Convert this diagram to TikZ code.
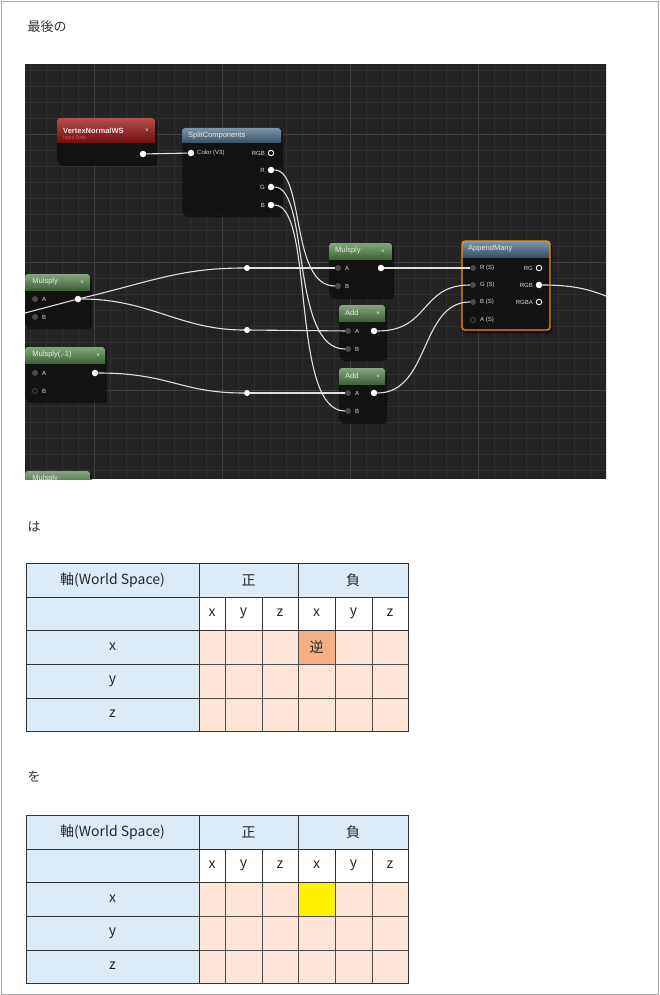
\documentclass[tikz,border=0pt]{standalone}
\usepackage{fontspec}
\setmainfont{Noto Sans CJK JP}
\newfontfamily\uefont{Liberation Sans}
\definecolor{tblue}{HTML}{DDEBF7}
\definecolor{tpeach}{HTML}{FCE4D6}
\definecolor{torange}{HTML}{F4B084}
\definecolor{bg}{HTML}{232323}
\definecolor{gridc}{HTML}{303030}
\definecolor{nodebody}{HTML}{121212}
\definecolor{hred}{HTML}{9E1212}
\definecolor{hblue}{HTML}{4F7390}
\definecolor{hgreen}{HTML}{5C8A52}
\definecolor{pingray}{HTML}{4A4A4A}
\tikzset{
  wire/.style={draw=white!88!black, line width=1.1pt},
  pin/.style={circle, fill=white, inner sep=0pt, minimum size=6.5pt},
  gpin/.style={circle, fill=pingray, inner sep=0pt, minimum size=6pt},
  hpin/.style={circle, draw=white, line width=0.9pt, inner sep=0pt, minimum size=5.5pt},
  ohpin/.style={circle, draw=pingray, line width=0.8pt, inner sep=0pt, minimum size=5pt},
  reroute/.style={circle, fill=white, inner sep=0pt, minimum size=6pt},
  ptxt/.style={text=white!85!black, font=\uefont\fontsize{6}{6}\selectfont, inner sep=0pt},
  htxt/.style={text=white!92!black, font=\uefont\fontsize{7.5}{8}\selectfont, inner sep=0pt, anchor=west},
  tcell/.style={font=\fontsize{14}{16}\selectfont, text=black!85},
}
\newcommand{\uebox}[7]{% x1 y1 x2 y2 headerbottom color title
  \fill[black, opacity=0.5, rounded corners=3pt] (#1+2,#2+3) rectangle (#3+2,#4+3);
  \fill[nodebody, rounded corners=3pt] (#1,#2) rectangle (#3,#4);
  \begin{scope}
    \clip[rounded corners=3pt] (#1,#2) rectangle (#3,#4);
    \shade[top color=#6!75!white, bottom color=#6!70!black] (#1,#2) rectangle (#3,#5);
  \end{scope}
  \node[htxt] at (#1+6,{(#2+#5)/2}) {#7};
}
\begin{document}
\begin{tikzpicture}[x=1pt,y=-1pt]
\useasboundingbox (0,0) rectangle (659,995);
\fill[white] (0,0) rectangle (659,995);
\draw[black!35, line width=0.8pt] (1,1) rectangle (658,994);
\node[anchor=west, font=\fontsize{13}{15}\selectfont, text=black!80] (t1) at (24,27) {最後の};
\node[anchor=west, font=\fontsize{13}{15}\selectfont, text=black!80] (t2) at (24,527) {は};
\node[anchor=west, font=\fontsize{13}{15}\selectfont, text=black!80] (t3) at (24,777) {を};

% ---------- graph ----------
\begin{scope}
\clip (25,64) rectangle (606,479);
\fill[bg] (25,64) rectangle (606,479);
\foreach \x in {30,46,...,606} \draw[gridc, line width=0.6pt] (\x,64) -- (\x,479);
\foreach \y in {70,86,...,479} \draw[gridc, line width=0.6pt] (25,\y) -- (606,\y);
\foreach \x in {94,222,350,478} \draw[black!75, line width=0.7pt] (\x,64) -- (\x,479);
\foreach \y in {134,262,390} \draw[black!75, line width=0.7pt] (25,\y) -- (606,\y);

% nodes
\uebox{57}{118}{155}{163}{143}{hred}{\textbf{VertexNormalWS}}
\node[anchor=west, text=red!70!white, font=\uefont\fontsize{5}{6}\selectfont, inner sep=0pt] at (63,138) {Input Data};
\node[text=white, font=\fontsize{6}{6}\selectfont] at (147,130) {\textsf{v}};
\uebox{182}{128}{281}{214}{143}{hblue}{SplitComponents}
\uebox{329}{243}{392}{296}{259}{hgreen}{Mulsply}
\uebox{339}{305}{385}{358}{321}{hgreen}{Add}
\uebox{339}{368}{385}{421}{384}{hgreen}{Add}
\uebox{25}{274}{90}{326}{290}{hgreen}{\,Mulsply}
\uebox{25}{347}{105}{400}{363}{hgreen}{\,Mulsply(,-1)}
\uebox{25}{471}{90}{520}{487}{hgreen}{\,Mulsply}
\uebox{462}{241}{550}{330}{257}{hblue}{AppendMany}
\draw[orange!90!yellow, line width=1.3pt, rounded corners=3pt] (462,241) rectangle (550,330);
\foreach \p in {(383,251),(378,313),(378,376),(82,282),(98,355)}
  \node[text=white, font=\fontsize{6}{6}\selectfont] at \p {\textsf{v}};

% pins
\node[pin] (vn) at (143,154) {};
\node[pin] (sc) at (191,153) {};
\node[ptxt, anchor=west] at (197,153) {Color (V3)};
\node[hpin] (srgb) at (271,153) {}; \node[ptxt, anchor=east] at (265,153) {RGB};
\node[pin] (sr) at (271,170) {}; \node[ptxt, anchor=east] at (265,170) {R};
\node[pin] (sg) at (271,187) {}; \node[ptxt, anchor=east] at (265,187) {G};
\node[pin] (sb) at (271,205) {}; \node[ptxt, anchor=east] at (265,205) {B};

\node[gpin] (ma) at (338,268) {}; \node[ptxt, anchor=west] at (345,268) {A};
\node[gpin] (mb) at (338,286) {}; \node[ptxt, anchor=west] at (345,286) {B};
\node[pin] (mo) at (381,268) {};
\node[gpin] (a1a) at (348,331) {}; \node[ptxt, anchor=west] at (355,331) {A};
\node[gpin] (a1b) at (348,349) {}; \node[ptxt, anchor=west] at (355,349) {B};
\node[pin] (a1o) at (374,331) {};
\node[gpin] (a2a) at (348,393) {}; \node[ptxt, anchor=west] at (355,393) {A};
\node[gpin] (a2b) at (348,411) {}; \node[ptxt, anchor=west] at (355,411) {B};
\node[pin] (a2o) at (374,393) {};

\node[gpin] (lma) at (35,299) {}; \node[ptxt, anchor=west] at (42,299) {A};
\node[gpin] (lmb) at (35,317) {}; \node[ptxt, anchor=west] at (42,317) {B};
\node[pin] (lmo) at (78,299) {};
\node[gpin] (nma) at (35,373) {}; \node[ptxt, anchor=west] at (42,373) {A};
\node[ohpin] (nmb) at (35,391) {}; \node[ptxt, anchor=west] at (42,391) {B};
\node[pin] (nmo) at (95,373) {};

\node[gpin] (ar) at (473,268) {}; \node[ptxt, anchor=west] at (480,268) {R (S)};
\node[gpin] (ag) at (473,285) {}; \node[ptxt, anchor=west] at (480,285) {G (S)};
\node[gpin] (ab) at (473,302) {}; \node[ptxt, anchor=west] at (480,302) {B (S)};
\node[ohpin] (aa) at (473,320) {}; \node[ptxt, anchor=west] at (480,320) {A (S)};
\node[hpin] (org) at (539,268) {}; \node[ptxt, anchor=east] at (533,268) {RG};
\node[pin] (orgb) at (539,285) {}; \node[ptxt, anchor=east] at (533,285) {RGB};
\node[hpin] (orgba) at (539,302) {}; \node[ptxt, anchor=east] at (533,302) {RGBA};

\node[reroute] (r1) at (247,268) {};
\node[reroute] (r2) at (247,330) {};
\node[reroute] (r3) at (247,393) {};
\coordinate (offL) at (25,313);
\coordinate (offR) at (606,296);

% wires
\draw[wire] (vn) -- (sc);
\draw[wire] (offL) -- (lmo);
\draw[wire] (lmo) .. controls (150,282) and (180,268) .. (r1);
\draw[wire] (r1) -- (ma);
\draw[wire] (lmo) .. controls (150,299) and (180,330) .. (r2);
\draw[wire] (r2) -- (a1a);
\draw[wire] (nmo) .. controls (170,373) and (180,393) .. (r3);
\draw[wire] (r3) -- (a2a);
\draw[wire] (sr) .. controls (305,170) and (290,286) .. (mb);
\draw[wire] (sg) .. controls (310,187) and (290,349) .. (a1b);
\draw[wire] (sb) .. controls (315,205) and (290,411) .. (a2b);
\draw[wire] (mo) -- (ar);
\draw[wire] (a1o) .. controls (430,331) and (420,285) .. (ag);
\draw[wire] (a2o) .. controls (430,393) and (420,302) .. (ab);
\draw[wire] (orgb) .. controls (575,285) and (590,290) .. (offR);
\end{scope}

% ---------- tables ----------
\foreach \T/\Y/\hc in {1/563/torange, 2/815/yellow}{
  \begin{scope}[yshift={-(\Y-563)*1pt}]
  \fill[tblue] (26,563) rectangle (408,597);
  \fill[tblue] (26,597) rectangle (199,731);
  \fill[tpeach] (199,630) rectangle (408,731);
  \fill[\hc] (298,630) rectangle (335,664);
  \draw[black!70, line width=0.8pt] (199,664) -- (408,664) (199,698) -- (408,698);
  \foreach \x in {225,262,298,335,372} \draw[black!70, line width=0.8pt] (\x,630) -- (\x,731);
  \draw[black!80, line width=0.9pt] (26,563) rectangle (408,731);
  \draw[black!80, line width=0.9pt] (199,563) -- (199,731) (298,563) -- (298,630)
     (26,597) -- (408,597) (26,630) -- (408,630) (26,664) -- (199,664) (26,698) -- (199,698);
  \foreach \x in {225,262,335,372} \draw[black!80, line width=0.9pt] (\x,597) -- (\x,630);
  \node[tcell] (h0\T) at (112.5,580) {軸(World Space)};
  \node[tcell] (hp\T) at (248.5,580) {正};
  \node[tcell] (hn\T) at (353,580) {負};
  \foreach \cx/\cl [count=\i] in {212/x,243.5/y,280/z,316.5/x,353.5/y,390/z}
    \node[tcell] (s\i\T) at (\cx,613) {\cl};
  \node[tcell] (rx\T) at (112.5,647) {x};
  \node[tcell] (ry\T) at (112.5,681) {y};
  \node[tcell] (rz\T) at (112.5,714) {z};
  \end{scope}
}
\node[tcell] (gyaku) at (316.5,647) {逆};
\end{tikzpicture}
\end{document}
